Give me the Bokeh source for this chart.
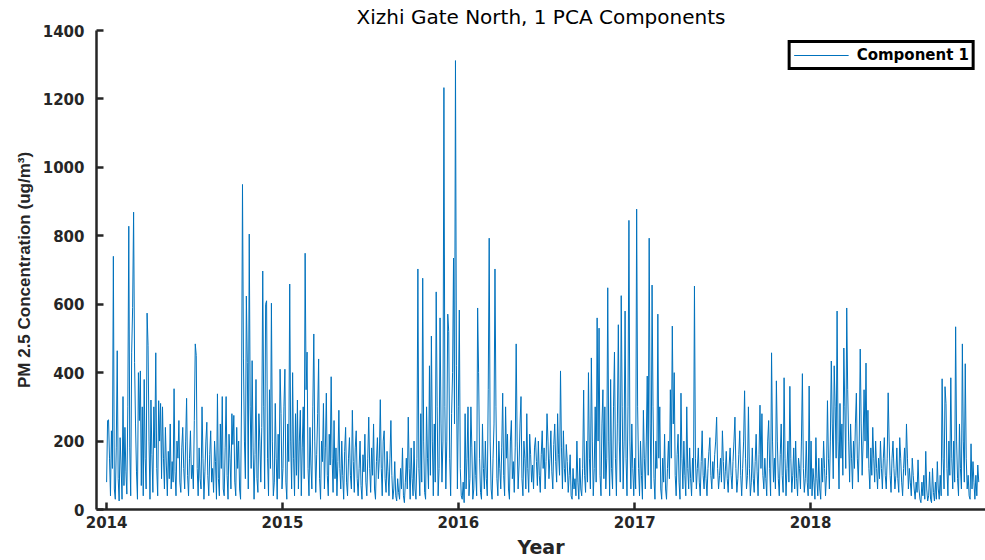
import pandas as pd
from bokeh.plotting import figure
from bokeh.models import Range1d, FixedTicker, DatetimeTickFormatter, Title
from bokeh.embed import file_html
from bokeh.resources import INLINE

# ---------------- data (2-day sampling) ----------------
start_date = "2014-01-01"
step = "2D"
tick_years = [2014, 2015, 2016, 2017, 2018]
series_name = "Component 1"

pm_2014 = [80, 260, 262, 150, 40, 230, 120, 740, 60, 30, 180, 464, 90, 25, 210, 130,
           30, 330, 70, 240, 110, 45, 300, 828, 180, 40, 460, 590, 869, 430, 250, 110,
           30, 400, 260, 405, 70, 300, 40, 380, 150, 60, 574, 480, 200, 30, 320, 160,
           50, 300, 180, 458, 120, 40, 318, 200, 310, 90, 300, 150, 60, 240, 130, 40,
           170, 90, 250, 60, 140, 80, 353, 110, 40, 200, 150, 260, 80, 50, 180, 240,
           120, 60, 200, 325, 100, 40, 150, 230, 90, 130, 60, 260, 484, 450, 120, 40,
           180, 90, 60, 300, 150, 30, 110, 200, 255, 100, 40, 160, 230, 80, 120, 50,
           200, 140, 30, 338, 90, 40, 250, 120, 330, 60, 40, 180, 330, 100, 30, 220,
           150, 60, 280, 190, 275, 80, 40, 240, 120, 200, 60, 30, 320, 950, 440, 200,
           90, 624, 430, 60, 805, 300, 120, 435, 180, 30, 160, 380, 90, 50, 280, 200,
           80, 240, 697, 300, 60, 600, 610, 150, 40, 350, 120, 603, 200, 40, 80, 310,
           150, 30, 220, 90, 410, 280, 60]

pm_2015 = [120, 300, 410, 80, 30, 250, 140, 659, 200, 60, 400, 150, 40, 280, 100, 320,
           60, 200, 290, 40, 180, 300, 90, 749, 350, 460, 120, 40, 240, 130, 60, 300,
           513, 200, 50, 160, 280, 440, 90, 30, 200, 140, 310, 60, 180, 340, 100, 40,
           220, 130, 388, 150, 50, 260, 90, 180, 40, 140, 290, 120, 60, 200, 100, 30,
           170, 240, 80, 40, 150, 210, 100, 60, 290, 140, 50, 180, 230, 90, 40, 120,
           200, 70, 30, 160, 110, 220, 80, 40, 150, 270, 120, 50, 180, 100, 250, 60,
           30, 140, 210, 90, 150, 321, 120, 40, 200, 230, 90, 50, 170, 110, 40, 150,
           260, 100, 30, 60, 140, 40, 25, 90, 50, 30, 120, 60, 180, 40, 20, 80,
           150, 60, 270, 120, 30, 180, 90, 40, 200, 60, 30, 150, 703, 120, 40, 280,
           80, 676, 200, 50, 30, 300, 150, 60, 420, 100, 507, 200, 40, 250, 80, 636,
           300, 40, 120, 560, 250, 80, 200, 1233, 300, 60, 200, 571, 520, 150, 40, 280,
           400, 735, 250, 1312, 420, 60]

pm_2016 = [300, 583, 120, 40, 30, 80, 20, 280, 60, 150, 300, 40, 90, 300, 180, 30,
           60, 200, 100, 40, 589, 400, 150, 50, 30, 250, 120, 60, 200, 90, 40, 350,
           793, 200, 60, 30, 150, 250, 703, 300, 90, 40, 200, 120, 60, 180, 340, 100,
           40, 300, 150, 220, 60, 30, 200, 260, 90, 140, 50, 180, 484, 200, 60, 130,
           250, 330, 90, 40, 200, 150, 60, 280, 120, 50, 220, 160, 80, 130, 60, 180,
           210, 140, 70, 200, 100, 50, 160, 230, 120, 180, 60, 140, 280, 200, 90, 150,
           230, 110, 60, 190, 250, 140, 80, 280, 160, 100, 405, 180, 60, 230, 120, 80,
           190, 140, 50, 100, 160, 40, 30, 120, 60, 90, 40, 200, 80, 30, 150, 60,
           40, 120, 349, 100, 50, 200, 80, 400, 150, 60, 443, 200, 40, 120, 300, 80,
           560, 200, 530, 100, 40, 250, 350, 90, 300, 60, 150, 648, 200, 40, 380, 120,
           60, 300, 460, 150, 40, 250, 540, 200, 80, 625, 300, 60, 200, 580, 150, 40,
           300, 845, 200, 60, 250, 120, 40]

pm_2017 = [150, 60, 878, 300, 120, 40, 200, 100, 30, 290, 150, 60, 200, 390, 100, 793,
           250, 60, 656, 300, 90, 30, 200, 120, 571, 150, 300, 60, 30, 150, 80, 220,
           60, 30, 120, 200, 90, 350, 150, 536, 250, 400, 100, 40, 160, 220, 80, 30,
           340, 150, 60, 200, 100, 40, 300, 120, 60, 180, 90, 40, 150, 80, 653, 150,
           60, 120, 180, 80, 40, 140, 230, 100, 60, 150, 90, 40, 120, 170, 210, 100,
           60, 140, 90, 160, 200, 270, 120, 60, 100, 150, 80, 230, 140, 60, 110, 170,
           90, 50, 130, 180, 100, 60, 140, 200, 270, 120, 50, 90, 160, 230, 100, 40,
           120, 200, 347, 150, 60, 100, 300, 120, 40, 80, 180, 90, 50, 140, 220, 110,
           40, 160, 305, 120, 280, 100, 60, 150, 90, 40, 200, 260, 120, 40, 458, 200,
           80, 150, 60, 376, 200, 90, 40, 160, 250, 100, 50, 385, 150, 40, 120, 200,
           80, 360, 150, 50, 100, 180, 60, 200, 90, 40, 150, 120, 60, 200, 397, 120,
           50, 90, 200, 80, 40, 361]

pm_2018 = [60, 200, 40, 120, 80, 30, 210, 90, 40, 150, 60, 30, 150, 80, 200, 120,
           40, 100, 318, 150, 60, 200, 434, 250, 90, 420, 300, 150, 580, 200, 60, 310,
           150, 250, 100, 472, 300, 120, 589, 350, 200, 80, 250, 150, 60, 200, 120, 250,
           340, 150, 80, 200, 469, 250, 100, 200, 350, 200, 428, 150, 290, 120, 60, 180,
           100, 240, 150, 80, 200, 120, 60, 150, 90, 200, 120, 60, 150, 210, 100, 60,
           150, 341, 200, 100, 50, 150, 200, 120, 60, 100, 180, 90, 50, 210, 150, 80,
           40, 120, 180, 100, 250, 150, 60, 120, 80, 40, 150, 100, 60, 30, 80, 50,
           145, 60, 30, 20, 80, 40, 100, 30, 170, 60, 25, 40, 110, 30, 20, 120,
           50, 25, 80, 30, 140, 60, 30, 100, 40, 382, 150, 60, 359, 310, 120, 40,
           200, 100, 385, 150, 60, 200, 80, 534, 200, 90, 40, 250, 120, 60, 484, 200,
           80, 426, 150, 60, 100, 40, 30, 192, 60, 140, 80, 30, 100, 40, 130, 80]

values = pm_2014 + pm_2015 + pm_2016 + pm_2017 + pm_2018
dates = pd.date_range(start_date, periods=len(values), freq=step)

# ---------------- figure ----------------
AX = "#262626"
p = figure(width=985, height=560, x_axis_type="datetime",
           output_backend="svg", toolbar_location=None,
           x_range=Range1d(pd.Timestamp("2013-12-11"), pd.Timestamp("2018-12-30")),
           y_range=Range1d(0, 1400),
           min_border_left=96, min_border_right=0,
           min_border_top=29, min_border_bottom=51)
p.outline_line_color = None
p.grid.visible = False
p.background_fill_color = "white"

title = Title(text="Xizhi Gate North, 1 PCA Components", align="center",
              text_font="DejaVu Sans", text_font_size="20px",
              text_font_style="normal", text_color="black", standoff=4)
p.add_layout(title, "above")

p.line(dates, values, line_color="#0072BD", line_width=1, legend_label=series_name)

# x axis
xa = p.xaxis[0]
xa.ticker = FixedTicker(ticks=[pd.Timestamp(f"{y}-01-01").value // 10**6 for y in tick_years])
xa.formatter = DatetimeTickFormatter(years="%Y", months="%Y", days="%Y", hours="%Y",
                                     minutes="%Y", seconds="%Y", milliseconds="%Y",
                                     microseconds="%Y")
xa.axis_label = "Year"
# y axis
ya = p.yaxis[0]
ya.ticker = FixedTicker(ticks=[0, 200, 400, 600, 800, 1000, 1200, 1400])
ya.axis_label = "PM 2.5 Concentration (ug/m³)"

for ax in (xa, ya):
    ax.axis_line_color = AX
    ax.axis_line_width = 2.5
    ax.major_tick_line_color = AX
    ax.major_tick_line_width = 2.5
    ax.major_tick_in = 7
    ax.major_tick_out = 0
    ax.minor_tick_line_color = None
    ax.major_label_text_font = "DejaVu Sans"
    ax.major_label_text_font_style = "bold"
    ax.major_label_text_font_size = "15px"
    ax.major_label_text_color = AX

xa.major_label_standoff = 6
xa.axis_label_text_font = "DejaVu Sans"
xa.axis_label_text_font_style = "bold"
xa.axis_label_text_font_size = "19px"
xa.axis_label_text_color = AX
xa.axis_label_standoff = 5

ya.major_label_standoff = 12
ya.axis_label_text_font = "Liberation Sans"
ya.axis_label_text_font_style = "bold"
ya.axis_label_text_font_size = "17px"
ya.axis_label_text_color = AX
ya.axis_label_standoff = 6

# legend
lg = p.legend[0]
lg.location = "top_right"
lg.margin = 10
lg.padding = 3
lg.spacing = 0
lg.glyph_width = 55
lg.glyph_height = 16
lg.label_height = 16
lg.label_standoff = 8
lg.label_text_font = "DejaVu Sans"
lg.label_text_font_style = "bold"
lg.label_text_font_size = "15px"
lg.label_text_color = "black"
lg.border_line_color = "black"
lg.border_line_alpha = 1.0
lg.border_line_width = 3
lg.background_fill_color = "white"
lg.background_fill_alpha = 1.0

open("out.html", "w").write(file_html(p, INLINE))
